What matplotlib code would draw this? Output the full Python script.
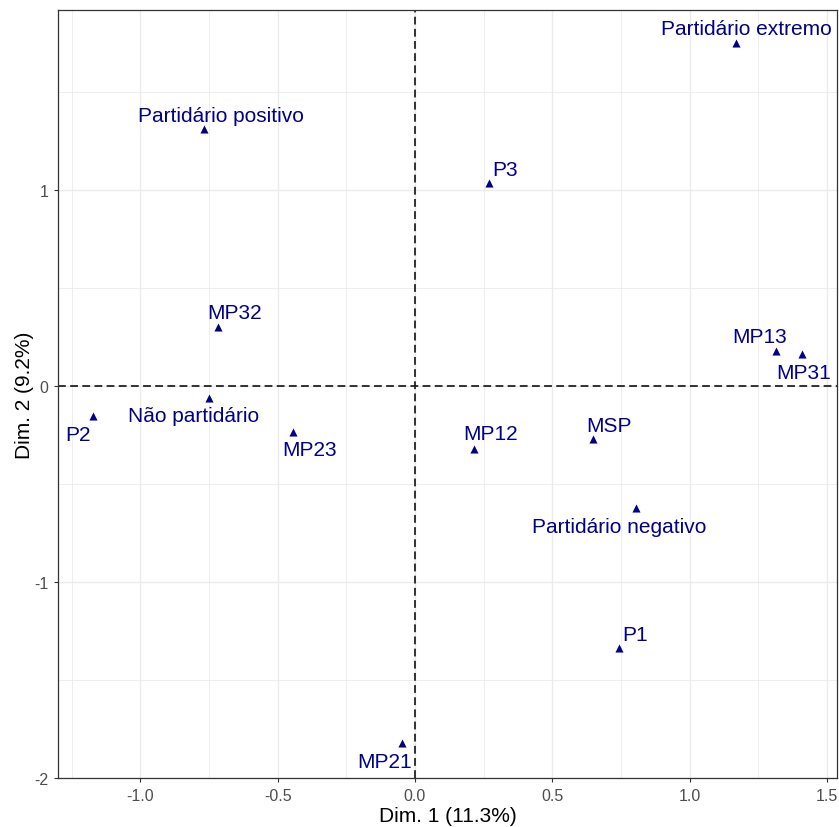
import matplotlib
matplotlib.use("Agg")
import matplotlib.pyplot as plt
from matplotlib.ticker import MultipleLocator

# category coordinates
labels = ["Partidário positivo", "MP32", "Não partidário", "P2", "MP23", "MP21",
          "P3", "Partidário extremo", "MP13", "MP31", "MP12", "MSP",
          "Partidário negativo", "P1"]
dim1 = [-0.767, -0.716, -0.749, -1.170, -0.445, -0.046,
        0.271, 1.169, 1.314, 1.410, 0.216, 0.647, 0.805, 0.743]
dim2 = [1.312, 0.301, -0.059, -0.153, -0.233, -1.822,
        1.034, 1.751, 0.179, 0.166, -0.320, -0.272, -0.621, -1.337]

# text offsets (points) to mimic repelled labels
label_dx = [12, 12, -11.5, -11.5, 12, -13, 11.5, 7.5, -12, 1, 12, 12, -12.5, 11.5]
label_dy = [10, 10.5, -13, -13, -12.5, -13, 10, 10.5, 10.5, -13.5, 11, 10, -13.5, 10]

mark_color = "#00008B"

plt.rcParams['font.family'] = ['Liberation Sans', 'DejaVu Sans']

fig = plt.figure(figsize=(8.39, 8.28), dpi=100)
ax = fig.add_axes([0.0695, 0.0592, 0.9285, 0.9279])

# grid like theme_bw
ax.set_xlim(-1.298, 1.537)
ax.set_ylim(-2.0, 1.921)
ax.xaxis.set_major_locator(MultipleLocator(0.5))
ax.xaxis.set_minor_locator(MultipleLocator(0.25))
ax.yaxis.set_major_locator(MultipleLocator(1))
ax.yaxis.set_minor_locator(MultipleLocator(0.5))
ax.grid(which='major', color='#EBEBEB', linewidth=1.0)
ax.grid(which='minor', color='#EBEBEB', linewidth=0.6)
ax.set_axisbelow(True)
ax.tick_params(which='minor', length=0)
ax.tick_params(which='major', length=3, width=0.8, color='#333333',
               labelcolor='#4D4D4D', labelsize=11.5)
ax.tick_params(axis='x', pad=4.5)
ax.tick_params(axis='y', pad=4)
for sp in ax.spines.values():
    sp.set_color('#333333')
    sp.set_linewidth(0.9)

ax.set_xticks([-1.0, -0.5, 0.0, 0.5, 1.0, 1.5])
ax.set_xticklabels(["-1.0", "-0.5", "0.0", "0.5", "1.0", "1.5"])
ax.set_yticks([-2, -1, 0, 1])
ax.set_yticklabels(["-2", "-1", "0", "1"])

# reference lines
ax.axhline(0, color='#1A1A1A', linewidth=1.25, linestyle=(0, (4.5, 2.5)), zorder=2)
ax.axvline(0, color='#1A1A1A', linewidth=1.25, linestyle=(0, (4.5, 2.5)), zorder=2)

# points and labels
ax.scatter(dim1, dim2, marker='^', s=34, color=mark_color, zorder=3, linewidths=0)
for lab, x, y, dx, dy in zip(labels, dim1, dim2, label_dx, label_dy):
    ax.annotate(lab, (x, y), xytext=(dx, dy), textcoords='offset points',
                ha='center', va='center', fontsize=15, color=mark_color, zorder=4)

ax.set_xlabel("Dim. 1 (11.3%)", fontsize=15, labelpad=2)
ax.set_ylabel("Dim. 2 (9.2%)", fontsize=15, labelpad=0)

fig.savefig("out.png", dpi=100)
